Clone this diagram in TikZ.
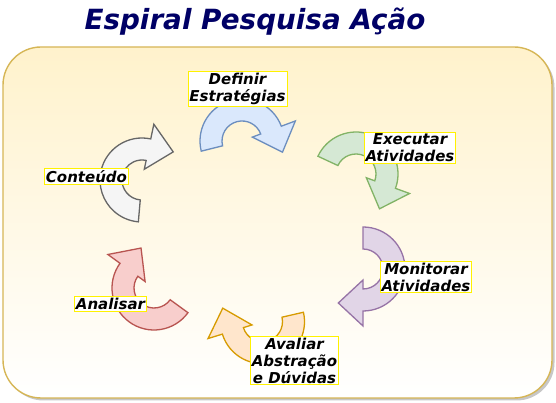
\documentclass[tikz,border=0pt]{standalone}
\usepackage{fontspec}
\setmainfont{DejaVu Sans}
\usetikzlibrary{calc}

\definecolor{boxline}{HTML}{D6B656}
\definecolor{boxtop}{HTML}{FFF2CC}
\definecolor{titleblue}{HTML}{000066}
\definecolor{grayfill}{HTML}{F5F5F5}\definecolor{grayline}{HTML}{666666}
\definecolor{bluefill}{HTML}{DAE8FC}\definecolor{blueline}{HTML}{6C8EBF}
\definecolor{greenfill}{HTML}{D5E8D4}\definecolor{greenline}{HTML}{82B366}
\definecolor{purplefill}{HTML}{E1D5E7}\definecolor{purpleline}{HTML}{9673A6}
\definecolor{orangefill}{HTML}{FFE6CC}\definecolor{orangeline}{HTML}{D79B00}
\definecolor{redfill}{HTML}{F8CECC}\definecolor{redline}{HTML}{B85450}

% curved arrow: centre, tail angle, head angle, fill, line
\newcommand{\spiral}[5]{%
  \filldraw[fill=#4, draw=#5, line width=1.3pt]
    ($(#1)+(#2:20)$) arc[start angle=#2, end angle=#3, radius=20]
    -- ($(#1)+(#3:11)$) -- ($(#1)+({#3-36}:42)$) -- ($(#1)+(#3:57)$)
    -- ($(#1)+(#3:42)$) arc[start angle=#3, end angle=#2, radius=42] -- cycle;}

\tikzset{
  lbl/.style={draw=yellow, fill=white, line width=0.8pt, inner sep=1.5pt, align=center,
    font=\fontsize{15}{17}\selectfont\bfseries\itshape}
}

\begin{document}
\begin{tikzpicture}[x=1pt, y=1pt]
\useasboundingbox (0,0) rectangle (556,403);
% frame
\fill[black!22, rounded corners=38] (5.5,2.5) rectangle (554.5,353.5);
\shade[top color=boxtop, bottom color=white, rounded corners=38] (3,5) rectangle (552,356);
\draw[boxline, line width=1.4pt, rounded corners=38] (3,5) rectangle (552,356);
\node[font=\fontsize{27.8}{30}\selectfont\bfseries\itshape, text=titleblue, anchor=base] (title) at (255,373.5) {Espiral Pesquisa Ação};
% arrows
\coordinate (cConteudo) at (142,223);
\coordinate (cDefinir) at (242,262);
\coordinate (cExecutar) at (356,229);
\coordinate (cMonitorar) at (363,134);
\coordinate (cAvaliar) at (262.5,81.3);
\coordinate (cAnalisar) at (154,115);
\spiral{cConteudo}{-95}{-282}{grayfill}{grayline}
\spiral{cDefinir}{194}{20.6}{bluefill}{blueline}
\spiral{cExecutar}{155}{-20}{greenfill}{greenline}
\spiral{cMonitorar}{90}{-90}{purplefill}{purpleline}
\spiral{cAvaliar}{13}{-162.8}{orangefill}{orangeline}
\spiral{cAnalisar}{-36}{-216}{redfill}{redline}
% labels
\node[lbl] (definir) at (237.5,314) {Definir\\Estratégias};
\node[lbl] (conteudo) at (86.5,226.5) {Conteúdo};
\node[lbl] (executar) at (410,255.5) {Executar\\Atividades};
\node[lbl] (monitorar) at (426,126) {Monitorar\\Atividades};
\node[lbl] (analisar) at (110.5,99) {Analisar};
\node[lbl] (avaliar) at (294.5,42.5) {Avaliar\\Abstração\\e Dúvidas};
\end{tikzpicture}
\end{document}
